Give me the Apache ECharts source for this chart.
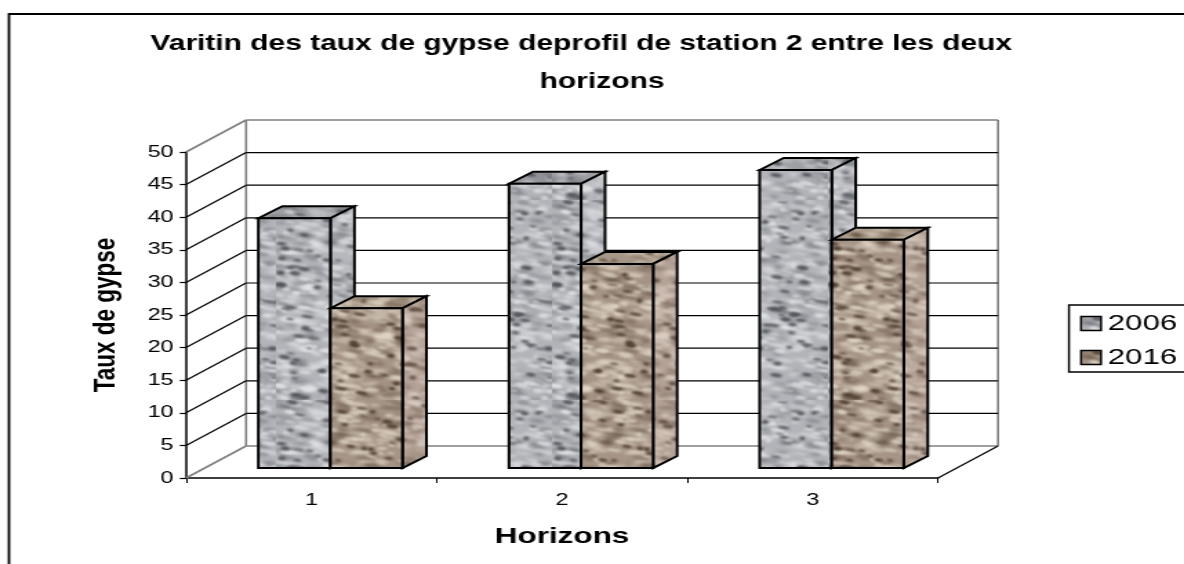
<!DOCTYPE html>
<html>
<head>
<meta charset="utf-8">
<style>
    html, body { margin: 0; padding: 0; background: #fff; overflow: hidden; }
    /* the source picture is stretched sideways, so the whole chart is too */
    #chart { width: 858px; height: 564px; transform: scaleX(1.38); transform-origin: 0 0; }
</style>
</head>
<body>
<div id="chart"></div>
<script src="https://cdn.jsdelivr.net/npm/echarts@6/dist/echarts.min.js"></script>
<script>
const categories = ["1", "2", "3"];
const values2006 = [38.3, 43.6, 45.7];
const values2016 = [24.5, 31.3, 35];
const yTicks = [0, 5, 10, 15, 20, 25, 30, 35, 40, 45, 50];
// leading spaces: the second line sits right of centre in the source
const titleText = "Varitin des taux de gypse deprofil de station 2 entre les deux\n     horizons";

const font = "'Liberation Sans', Arial, sans-serif";
// wall depth and bar depth in pixels, before the stretch
const wallDx = 43.5, wallDy = 32;
const barDx = 17.4, barDy = 12;
const barShiftX = 13.8, barShiftY = 10;

// mottled stone texture, fixed pattern drawn from a small hash
const hash = (n) => {
    const s = Math.sin(n * 127.1 + 11.7) * 43758.5453;
    return s - Math.floor(s);
};
const makeTexture = (c, seed) => {
    const size = 200;
    const cv = document.createElement("canvas");
    cv.width = size;
    cv.height = size;
    const ctx = cv.getContext("2d");
    ctx.fillStyle = c[0];
    ctx.fillRect(0, 0, size, size);
    const blobs = (count, blur, color, alpha, minW, maxW, off) => {
        ctx.filter = `blur(${blur}px)`;
        ctx.fillStyle = color;
        ctx.globalAlpha = alpha;
        for (let i = 0; i < count; i++) {
            const x = hash(seed + off + i) * size;
            const y = hash(seed + off + i + 500) * size;
            const w = minW + hash(seed + off + i + 900) * (maxW - minW);
            const h = 0.8 + hash(seed + off + i + 1300) * 1.6;
            ctx.beginPath();
            ctx.ellipse(x, y, w, h, 0.2, 0, Math.PI * 2);
            ctx.fill();
        }
    };
    blobs(500, 1.6, c[2], 0.6, 3, 9, 0);
    blobs(380, 1.6, c[1], 0.35, 3, 8, 3000);
    blobs(320, 1.1, c[2], 0.7, 2, 6, 6000);
    blobs(200, 1.1, c[1], 0.9, 2, 4.5, 9000);
    ctx.filter = "none";
    ctx.globalAlpha = 1;
    return {image: cv, repeat: "repeat"};
};
const skins = {
    2006: {
        front: makeTexture(["#b2b4b9", "#4e5056", "#e6e7ea"], 1),
        side: makeTexture(["#b6b8bd", "#5e6066", "#e2e3e6"], 2),
        top: makeTexture(["#9ea0a5", "#4c4e54", "#cdced2"], 3)
    },
    2016: {
        front: makeTexture(["#a69587", "#4a3a2c", "#e4dacb"], 4),
        side: makeTexture(["#b5a397", "#5f4c40", "#ddd1c6"], 5),
        top: makeTexture(["#a79788", "#63523f", "#d8cdbc"], 6)
    }
};

// back wall, side wall and floor
const renderWalls = (params, api) => {
    const v = api.value(1);
    const rect = params.coordSys;
    const y = api.coord([0, v])[1];
    const left = rect.x, right = rect.x + rect.width;
    const isEdge = v === 0 || v === 50;
    const stroke = isEdge ? "#808080" : "#000";
    const width = isEdge ? 1.6 : 1.2;
    const seg = (x1, y1, x2, y2, color, w) => ({
        type: "line",
        shape: {x1, y1, x2, y2},
        style: {stroke: color, lineWidth: w}
    });
    const children = [
        seg(left, y, left + wallDx, y - wallDy, stroke, width),
        seg(left + wallDx, y - wallDy, right + wallDx, y - wallDy, stroke, width)
    ];
    if (v === 0) {
        const topY = rect.y - wallDy;
        children.push(seg(left + wallDx, y - wallDy, left + wallDx, topY, "#808080", 1.6));
        children.push(seg(right + wallDx, y - wallDy, right + wallDx, topY, "#808080", 1.6));
        children.push(seg(right, y, right + wallDx, y - wallDy, "#000", 1.2));
    }
    return {type: "group", children};
};

// one 3d bar: front, side and top faces
const renderBar = (year, slot) => (params, api) => {
    const base = api.coord([api.value(0), 0]);
    const top = api.coord([api.value(0), api.value(1)]);
    const w = api.size([1, 0])[0] * 0.2875;
    const x0 = base[0] + barShiftX + (slot - 1) * w;
    const x1 = x0 + w;
    const y0 = top[1] - barShiftY;
    const y1 = base[1] - barShiftY;
    const skin = skins[year];
    const edge = {stroke: "#000", lineWidth: 2, lineJoin: "miter"};
    const face = (points, fill) => ({
        type: "polygon",
        shape: {points},
        style: Object.assign({fill}, edge)
    });
    return {
        type: "group",
        children: [
            face([[x0, y0], [x0 + barDx, y0 - barDy], [x1 + barDx, y0 - barDy], [x1, y0]], skin.top),
            face([[x1, y0], [x1 + barDx, y0 - barDy], [x1 + barDx, y1 - barDy], [x1, y1]], skin.side),
            face([[x0, y0], [x1, y0], [x1, y1], [x0, y1]], skin.front)
        ]
    };
};

const barSeries = (name, values, slot) => ({
    name,
    type: "custom",
    z: 3,
    clip: false,
    itemStyle: {color: skins[name].front},
    encode: {x: 0, y: 1},
    data: values.map((v, i) => [i, v]),
    renderItem: renderBar(name, slot)
});

const option = {
    animation: false,
    backgroundColor: "#fff",
    title: {
        text: titleText,
        left: 416.2,
        top: 20,
        textAlign: "center",
        textStyle: {
            fontFamily: font,
            fontSize: 21.7,
            fontWeight: "bold",
            color: "#000",
            lineHeight: 38
        }
    },
    legend: {
        orient: "vertical",
        left: 774.6,
        top: 305,
        padding: [7, 30, 3, 8],
        itemWidth: 14.5,
        itemHeight: 14,
        itemGap: 11,
        borderColor: "#000",
        borderWidth: 1.5,
        selectedMode: false,
        textStyle: {fontFamily: font, fontSize: 22.5, color: "#000"},
        data: [
            {name: "2006", icon: "rect", itemStyle: {color: skins[2006].front, borderColor: "#000", borderWidth: 1.5}},
            {name: "2016", icon: "rect", itemStyle: {color: skins[2016].front, borderColor: "#000", borderWidth: 1.5}}
        ]
    },
    grid: {left: 134.8, top: 152, width: 544.9, height: 326},
    xAxis: {
        type: "category",
        data: categories,
        name: "Horizons",
        nameLocation: "middle",
        nameGap: 47,
        nameTextStyle: {fontFamily: font, fontSize: 22.8, fontWeight: "bold", color: "#000"},
        axisLine: {lineStyle: {color: "#000", width: 1.5}},
        axisTick: {show: true, length: 5, lineStyle: {color: "#000", width: 1}},
        axisLabel: {fontFamily: font, fontSize: 17, color: "#000", margin: 14},
        splitLine: {show: false}
    },
    yAxis: {
        type: "value",
        min: 0,
        max: 50,
        interval: 5,
        name: "Taux de gypse",
        nameLocation: "middle",
        nameGap: 47,
        nameRotate: 90,
        nameTextStyle: {fontFamily: font, fontSize: 22.5, fontWeight: "bold", color: "#000"},
        axisLine: {show: true, lineStyle: {color: "#000", width: 1.5}},
        axisTick: {show: true, length: 4.5, lineStyle: {color: "#000", width: 1.2}},
        axisLabel: {fontFamily: font, fontSize: 17, color: "#000", margin: 9},
        splitLine: {show: false}
    },
    graphic: [
        {
            type: "rect",
            shape: {x: 6.5, y: 14, width: 1000, height: 700},
            style: {fill: "none", stroke: "#000", lineWidth: 1.8},
            silent: true
        }
    ],
    series: [
        {
            name: "walls",
            type: "custom",
            z: 1,
            clip: false,
            silent: true,
            encode: {x: 0, y: 1},
            data: yTicks.map((v) => [0, v]),
            renderItem: renderWalls
        },
        barSeries("2006", values2006, 0),
        barSeries("2016", values2016, 1)
    ]
};

const ecIns = echarts.init(document.getElementById("chart"));
ecIns.setOption(option);
</script>
</body>
</html>
